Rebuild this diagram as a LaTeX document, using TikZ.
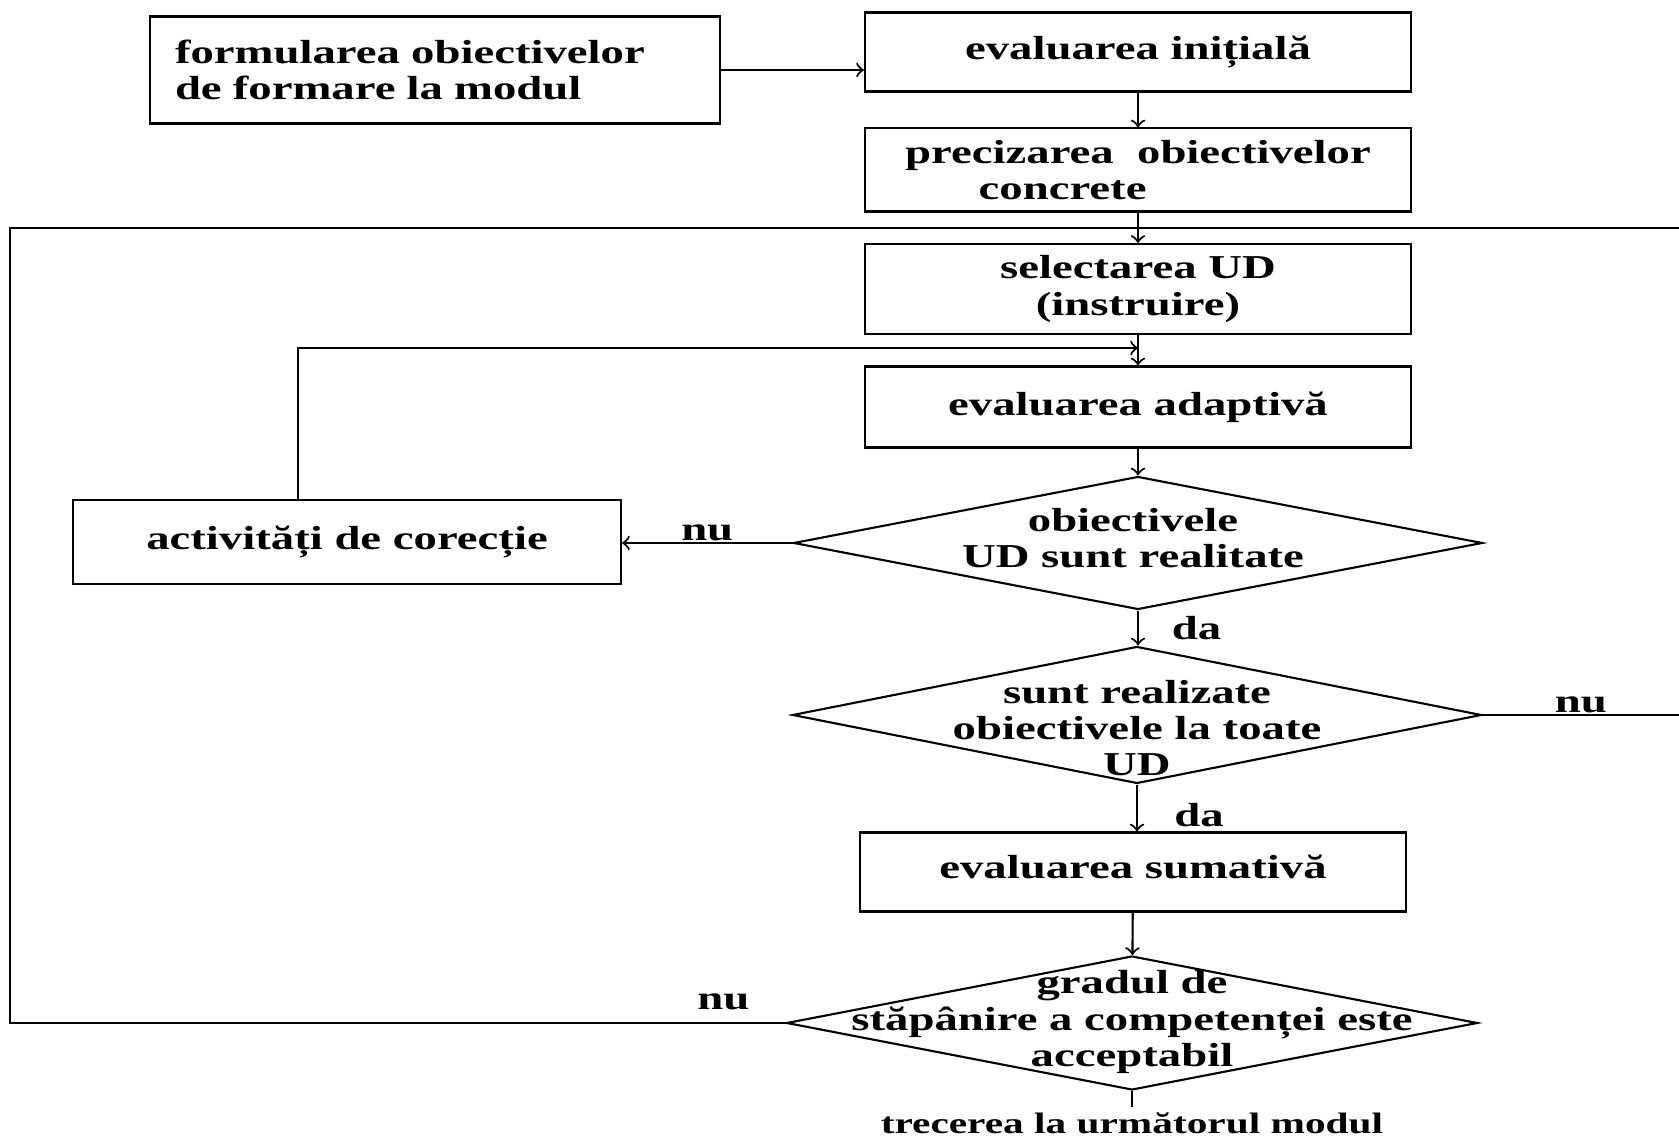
\documentclass[tikz,border=0pt]{standalone}
\usepackage{fontspec}
\setmainfont{Liberation Serif}[FakeStretch=1.4]
\usetikzlibrary{arrows}
\usetikzlibrary{shapes.geometric}

\tikzset{
 pas/.style={draw, line width=.6pt, minimum width=5.46cm, minimum height=.79cm, align=center},
 decizie/.style={draw, diamond, line width=.6pt, minimum width=6.9cm, minimum height=1.34cm, inner sep=0pt},
 leg/.style={line width=.6pt}
}

\begin{document}
\begin{tikzpicture}[>=to, every node/.append style={font=\bfseries\fontsize{9.5}{10.3}\selectfont}]
\useasboundingbox (0,0) rectangle (16.79,11.40);
% casetele
\node[pas, minimum width=5.70cm, minimum height=1.07cm, text width=5.2cm, align=left] (form) at (4.35,10.70) {formularea obiectivelor\\de formare la modul};
\node[pas] (ini) at (11.38,10.88) {evaluarea inițială};
\node[pas, align=left] (prec) at (11.38,9.70) {precizarea \ obiectivelor\\\hspace*{2.2em}concrete};
\node[pas, minimum height=.80cm] (sel) at (11.38,8.51) {selectarea UD\\(instruire)};
\node[pas, minimum height=.81cm] (adapt) at (11.38,7.33) {evaluarea adaptivă};
\node[decizie, minimum width=6.89cm, minimum height=1.33cm] (d1) at (11.38,5.97) {};
\node[align=center] (d1t) at (11.33,6.02) {obiectivele\\UD sunt realitate};
\node[pas, minimum width=5.48cm, minimum height=.84cm] (act) at (3.47,5.98) {activități de corecție};
\node[decizie, minimum width=6.89cm, minimum height=1.37cm] (d2) at (11.37,4.25) {};
\node[align=center] (d2t) at (11.37,4.12) {sunt realizate\\obiectivele la toate\\UD};
\node[pas] (sum) at (11.33,2.68) {\raisebox{.7ex}{evaluarea sumativă}};
\node[decizie, minimum width=6.91cm] (d3) at (11.32,1.17) {};
\node[align=center] (d3t) at (11.32,1.18) {gradul de\\stăpânire a competenței este\\acceptabil};
\node[anchor=base, inner sep=1.5pt, font=\bfseries\fontsize{8.4}{9}\selectfont] (fin) at (11.32,0.06) {trecerea la următorul modul};

% puncte pentru bucle
\coordinate (k1) at (2.98,7.92);
\coordinate (k2) at (0.10,9.12);
\coordinate (k3) at (16.79,9.12);
\coordinate (k4) at (16.79,4.25);

% legaturi
\draw[leg, ->] (form) -- (form -| ini.west);
\draw[leg, ->] (ini) -- (prec);
\draw[leg, ->] (prec) -- (sel);
\draw[leg, ->] (sel) -- (adapt);
\draw[leg, ->] (adapt) -- (d1);
\draw[leg, ->] (d1.west) -- node[above, yshift=-3pt]{nu} (act.east |- d1.west);
\draw[leg, ->] (k1 |- act.north) -- (k1) -- (k1 -| sel.south);
\draw[leg, ->] (d1.south) -- node[right, xshift=6pt]{da} (d1.south |- d2.north);
\draw[leg] (d2.east) -- node[above, yshift=-3pt]{nu} (k4);
\draw[leg, ->] (d2.south) -- node[right, xshift=7pt, yshift=-2pt]{da} (d2.south |- sum.north);
\draw[leg, ->] (sum) -- (d3);
\draw[leg] (d3.west) -- node[above, pos=.08]{nu} (d3.west -| k2) -- (k2) -- (k3);
\draw[leg] (d3.south) -- (fin.north);
\end{tikzpicture}
\end{document}
